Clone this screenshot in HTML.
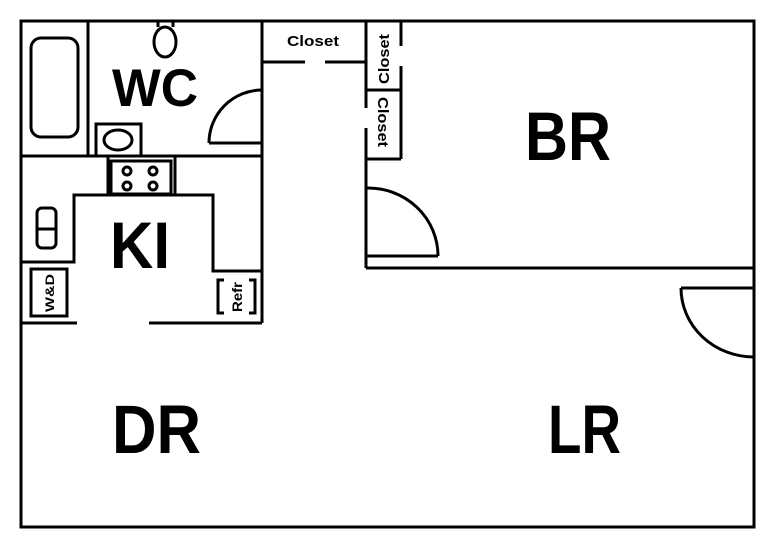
<!DOCTYPE html>
<html><head><style>body{margin:0;background:#fff}svg{display:block}</style></head><body>
<svg width="777" height="541" viewBox="0 0 777 541" xmlns="http://www.w3.org/2000/svg">
<g fill="none" stroke="#000" stroke-width="3">
<rect x="21" y="21" width="733" height="506"/>
<line x1="88" y1="21" x2="88" y2="156"/>
<line x1="21" y1="156" x2="262" y2="156"/>
<line x1="262" y1="21" x2="262" y2="323"/>
<rect x="31" y="38" width="47" height="99" rx="10"/>
<rect x="96" y="124" width="45" height="32"/>
<ellipse cx="118" cy="140" rx="14" ry="10"/>
<ellipse cx="165" cy="42" rx="11" ry="15"/>
<path d="M158 21 V27 M173 21 V27"/>
<line x1="209" y1="143" x2="262" y2="143"/>
<path d="M209 143 A53 53 0 0 1 262 90"/>
<line x1="262" y1="62" x2="305" y2="62"/>
<line x1="325" y1="62" x2="366" y2="62"/>
<line x1="366" y1="21" x2="366" y2="108"/>
<line x1="366" y1="128" x2="366" y2="268"/>
<line x1="401" y1="21" x2="401" y2="46"/>
<line x1="401" y1="66" x2="401" y2="159"/>
<line x1="366" y1="90" x2="401" y2="90"/>
<line x1="366" y1="159" x2="401" y2="159"/>
<line x1="366" y1="256" x2="438" y2="256"/>
<path d="M366 188 A70 68 0 0 1 438 256"/>
<line x1="366" y1="268" x2="754" y2="268"/>
<line x1="681" y1="288" x2="754" y2="288"/>
<path d="M681 288 A73 69 0 0 0 754 357"/>
<rect x="108" y="156" width="67" height="39"/>
<rect x="111" y="161" width="60" height="33"/>
<circle cx="127" cy="171" r="4"/><circle cx="153" cy="171" r="4"/>
<circle cx="127" cy="186" r="4"/><circle cx="153" cy="186" r="4"/>
<path d="M108 195 H74 V262 H21"/>
<path d="M175 195 H213 V271 H262"/>
<rect x="37" y="208" width="19" height="40" rx="5"/>
<line x1="37" y1="229" x2="56" y2="229"/>
<rect x="31" y="269" width="36" height="47"/>
<path d="M224 280 H218 V313 H224 M249 280 H255 V313 H249"/>
<line x1="21" y1="323" x2="77" y2="323"/>
<line x1="149" y1="323" x2="262" y2="323"/>
</g>
<g font-family="Liberation Sans, sans-serif" font-weight="bold" fill="#000">
<text x="112" y="106" font-size="53" textLength="86" lengthAdjust="spacingAndGlyphs">WC</text>
<text x="110" y="268" font-size="66" textLength="60" lengthAdjust="spacingAndGlyphs">KI</text>
<text x="525" y="160" font-size="69" textLength="86" lengthAdjust="spacingAndGlyphs">BR</text>
<text x="112" y="453" font-size="69" textLength="89" lengthAdjust="spacingAndGlyphs">DR</text>
<text x="548" y="453" font-size="69" textLength="73" lengthAdjust="spacingAndGlyphs">LR</text>
<text x="287" y="46" font-size="15" textLength="52" lengthAdjust="spacingAndGlyphs">Closet</text>
<text transform="translate(389,84) rotate(-90)" font-size="15" textLength="50" lengthAdjust="spacingAndGlyphs">Closet</text>
<text transform="translate(378,97) rotate(90)" font-size="15" textLength="50" lengthAdjust="spacingAndGlyphs">Closet</text>
<text transform="translate(54,312) rotate(-90)" font-size="12" textLength="38" lengthAdjust="spacingAndGlyphs">W&amp;D</text>
<text transform="translate(242,312) rotate(-90)" font-size="14" textLength="30" lengthAdjust="spacingAndGlyphs">Refr</text>
</g>
</svg>
</body></html>
